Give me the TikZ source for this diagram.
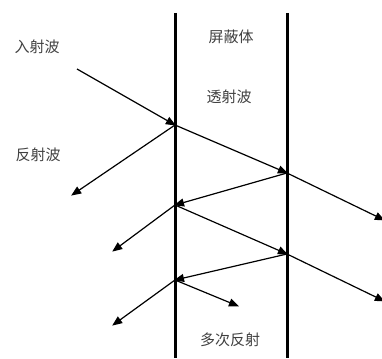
\documentclass[tikz,border=0pt]{standalone}
\usepackage{fontspec}
\setmainfont{Noto Sans CJK SC}
\usetikzlibrary{arrows.meta}
\begin{document}
\begin{tikzpicture}[
		x=1pt, y=-1pt,
		>={Triangle[length=10pt,width=8pt]},
		wall/.style={draw, line width=3pt},
		wave/.style={draw, ->, line width=1.2pt, shorten >=-1pt},
		lbl/.style={font=\fontsize{15}{17}\selectfont, text=black!75}
		]
		\useasboundingbox (0,0) rectangle (382,358);
		% 屏蔽体两侧界面
		\coordinate (Ltop) at (175,13);
		\coordinate (Lbot) at (175,358);
		\coordinate (Rtop) at (287,13);
		\coordinate (Rbot) at (287,358);
		\draw[wall] (Ltop) -- (Lbot);
		\draw[wall] (Rtop) -- (Rbot);
		% 反射点
		\coordinate (src) at (77,69);
		\coordinate (L1) at (175,125);
		\coordinate (R1) at (287,173);
		\coordinate (L2) at (175,205);
		\coordinate (R2) at (287,254);
		\coordinate (L3) at (175,280);
		% 出射端
		\coordinate (o1) at (72,195);
		\coordinate (o2) at (384,220);
		\coordinate (o3) at (113,251);
		\coordinate (o4) at (384,301);
		\coordinate (o5) at (113,325);
		\coordinate (o6) at (238,306);
		\draw[wave] (src) -- (L1);
		\draw[wave] (L1) -- (o1);
		\draw[wave] (L1) -- (R1);
		\draw[wave] (R1) -- (o2);
		\draw[wave] (R1) -- (L2);
		\draw[wave] (L2) -- (o3);
		\draw[wave] (L2) -- (R2);
		\draw[wave] (R2) -- (o4);
		\draw[wave] (R2) -- (L3);
		\draw[wave] (L3) -- (o5);
		\draw[wave] (L3) -- (o6);
		% 文字标注
		\node[lbl] (incident) at (37,47) {入射波};
		\node[lbl] (reflected) at (38,155) {反射波};
		\node[lbl] (shield) at (231,37) {屏蔽体};
		\node[lbl] (transmitted) at (229,97) {透射波};
		\node[lbl] (multi) at (230,340) {多次反射};
	\end{tikzpicture}
\end{document}
